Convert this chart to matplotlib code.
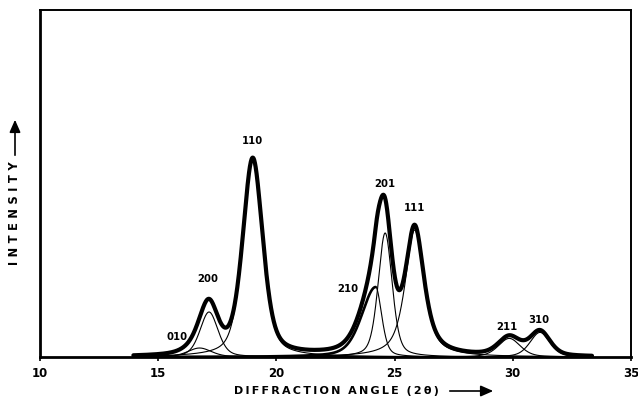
import numpy as np
import matplotlib
matplotlib.use("Agg")
import matplotlib.pyplot as plt

# Peak data (intensity in arbitrary units, 0..347 = frame height)
peak_labels = ["010", "200", "110", "210", "201", "111", "211", "310"]
peak_centers = [16.75, 17.15, 19.0, 24.2, 24.6, 25.85, 29.85, 31.15]
peak_heights = [9, 45, 197, 70, 124, 127, 18.6, 24.6]
fwhm_left = [1.2, 0.9, 1.0, 1.4, 0.7, 0.95, 1.1, 1.0]
fwhm_right = [1.2, 0.9, 1.0, 0.6, 0.7, 0.95, 1.1, 1.0]
lorentz_fraction = [0.4, 0.4, 0.45, 0.4, 0.4, 0.7, 0.4, 0.4]

# label anchor positions (x in degrees, y in intensity units)
label_x = [15.8, 17.1, 18.97, 23.03, 24.6, 25.86, 29.75, 31.1]
label_y = [20, 78, 216, 68, 173, 149, 30, 37]

scan_start, scan_end = 13.95, 33.35
x_ticks = [10, 15, 20, 25, 30, 35]


def profile(x, c, a, fl, fr, eta):
    f = np.where(x < c, fl, fr)
    d = (x - c) / f
    lor = 1.0 / (1.0 + 4.0 * d ** 2)
    gau = np.exp(-4.0 * np.log(2) * d ** 2)
    return a * (eta * lor + (1 - eta) * gau)


x = np.linspace(scan_start, scan_end, 2000)
components = [profile(x, c, a, fl, fr, e)
              for c, a, fl, fr, e in zip(peak_centers, peak_heights, fwhm_left,
                                         fwhm_right, lorentz_fraction)]
total = np.sum(components, axis=0)

fig = plt.figure(figsize=(6.38, 3.99), dpi=100)
ax = fig.add_axes([40 / 638, 1 - 357 / 399, 591 / 638, 347 / 399])

for lab, c, comp in zip(peak_labels, peak_centers, components):
    if lab == "210":
        left = x <= c
        ax.plot(x[left], comp[left], color="black", lw=1.9, solid_capstyle="round")
        ax.plot(x[~left], comp[~left], color="black", lw=0.8)
    else:
        ax.plot(x, comp, color="black", lw=0.8)

ax.plot(x, total, color="black", lw=3.0, solid_capstyle="round", solid_joinstyle="round")

for lab, lx, ly in zip(peak_labels, label_x, label_y):
    ax.text(lx, ly, lab, ha="center", va="center", fontsize=7.3,
            fontweight="bold", family="DejaVu Sans")

ax.set_xlim(10, 35)
ax.set_ylim(0, 347)
ax.set_xticks(x_ticks)
ax.set_xticklabels([str(t) for t in x_ticks], fontsize=8.5, fontweight="bold")
ax.tick_params(axis="x", direction="out", length=3, width=1.2, pad=4)
ax.set_yticks([])
for side in ["left", "bottom"]:
    ax.spines[side].set_linewidth(2.0)
for side in ["top", "right"]:
    ax.spines[side].set_linewidth(1.4)

ts = "\u2009"
xlab = ts.join("DIFFRACTION") + "  " + ts.join("ANGLE") + "  " + ts.join("(2θ)")
fig.text(336 / 638, 1 - 391 / 399, xlab, ha="center", va="center",
         fontsize=8, fontweight="bold")
fig.patches.append(matplotlib.patches.FancyArrowPatch(
    (447 / 638, 1 - 391 / 399), (496 / 638, 1 - 391 / 399),
    transform=fig.transFigure, arrowstyle="-|>,head_length=5,head_width=2.2",
    color="black", lw=1.2, mutation_scale=1.5))

ylab = (ts * 2).join("INTENSITY")
fig.text(15 / 638, 1 - 213 / 399, ylab, ha="center", va="center",
         fontsize=8.3, fontweight="bold", rotation=90)
fig.patches.append(matplotlib.patches.FancyArrowPatch(
    (15 / 638, 1 - 158 / 399), (15 / 638, 1 - 117 / 399),
    transform=fig.transFigure, arrowstyle="-|>,head_length=5,head_width=2.2",
    color="black", lw=1.2, mutation_scale=1.5))

fig.savefig("out.png", dpi=100)
